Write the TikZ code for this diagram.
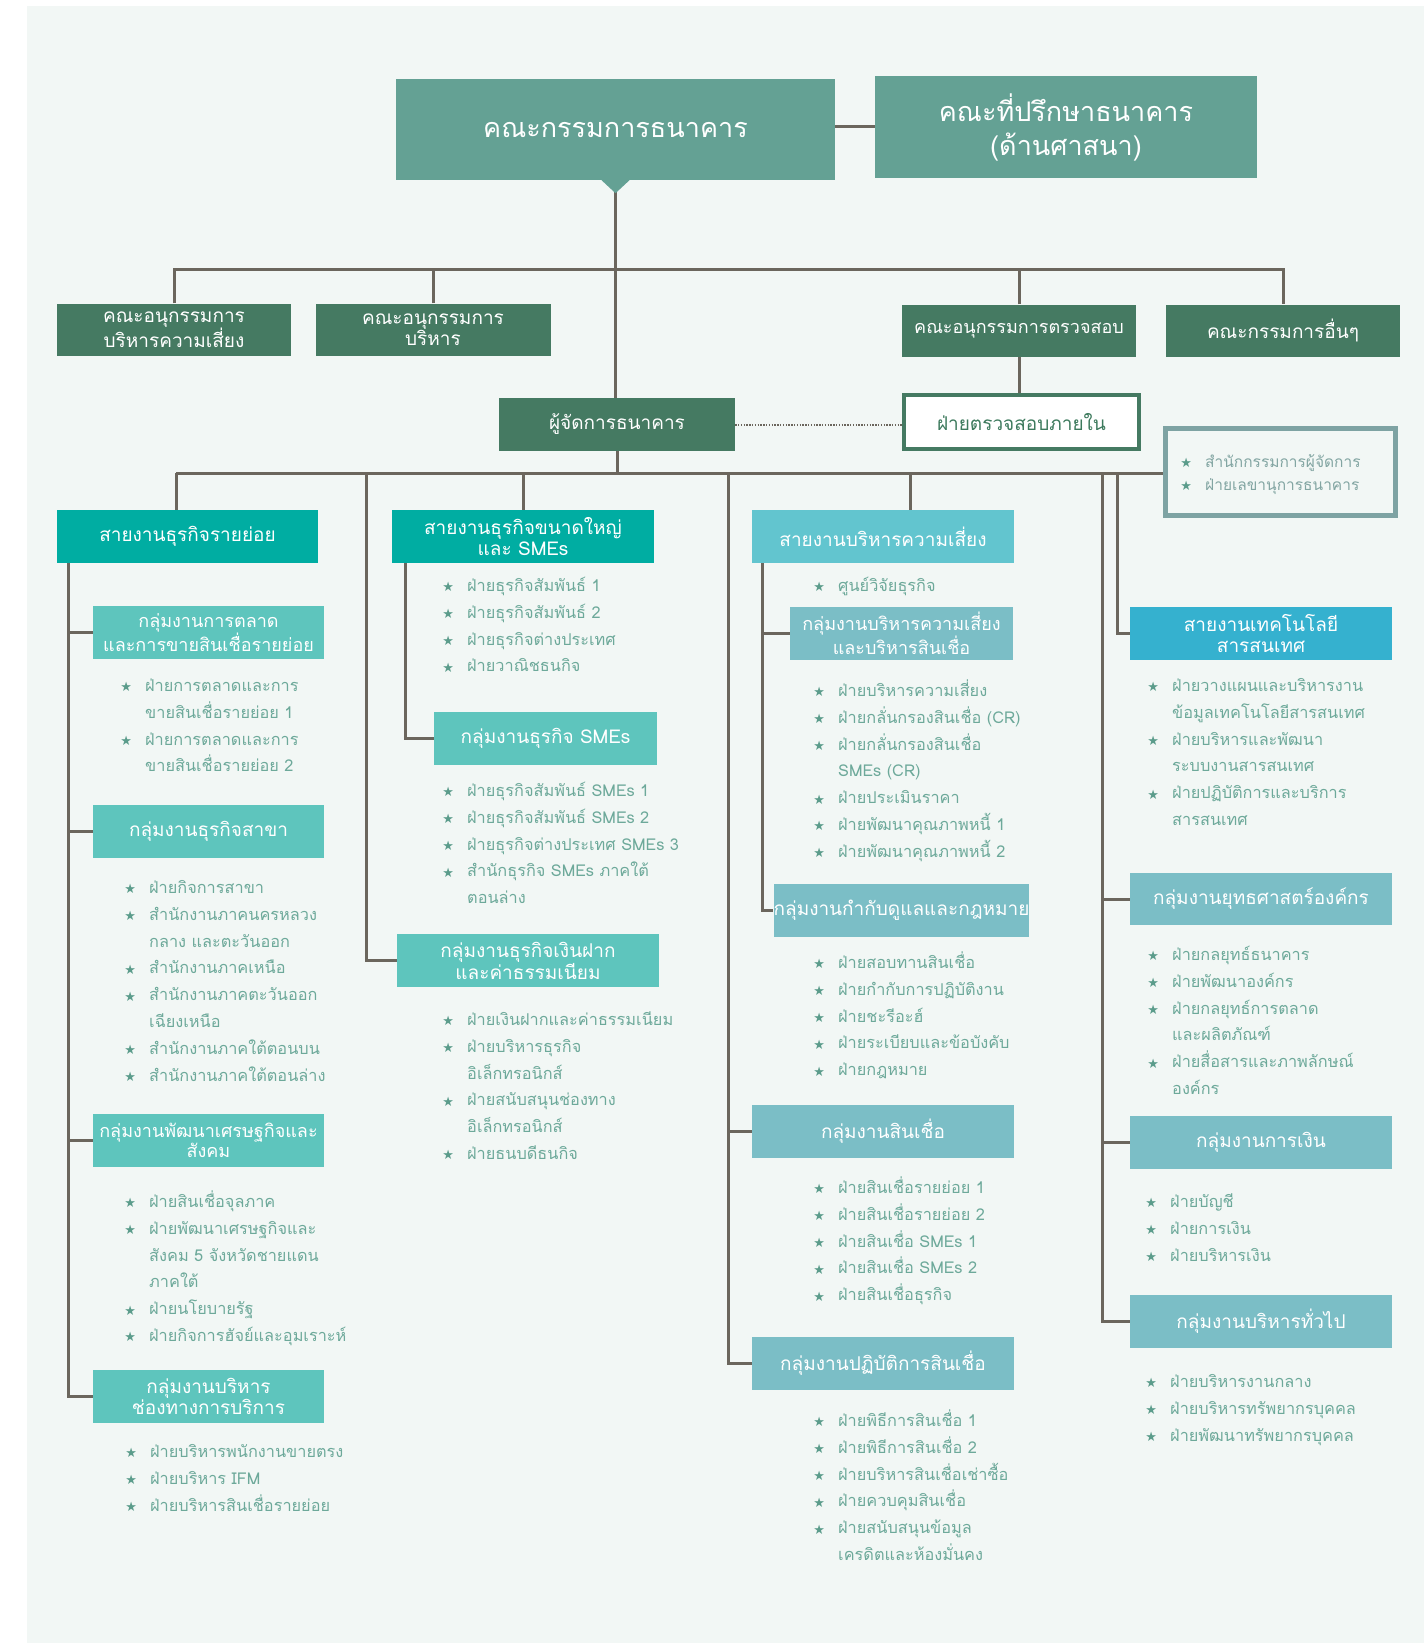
\documentclass[tikz,border=0pt]{standalone}
\usepackage{fontspec}
\setmainfont[Script=Thai]{Loma}
\newfontfamily\symf{DejaVu Sans}
\usetikzlibrary{calc}
\pgfdeclarelayer{bg}
\pgfsetlayers{bg,main}
\definecolor{panel}{HTML}{F2F7F5}
\definecolor{topc}{HTML}{64A194}
\definecolor{dkg}{HTML}{457A62}
\definecolor{tealA}{HTML}{00ADA2}
\definecolor{tealB}{HTML}{5EC5BD}
\definecolor{cyanA}{HTML}{62C5CF}
\definecolor{cyanB}{HTML}{7BBEC6}
\definecolor{blueA}{HTML}{35B1CF}
\definecolor{lnc}{HTML}{6B665D}
\definecolor{itc}{HTML}{6DA99A}
\definecolor{stc}{HTML}{5B9C8B}
\definecolor{secb}{HTML}{7EA3A3}
\definecolor{sect}{HTML}{82A5A2}
\definecolor{audt}{HTML}{3D7A5D}
\newcommand\st{\leavevmode\llap{\makebox[0pt]{\textcolor{stc}{\symf\fontsize{13}{13}\selectfont\raisebox{-0.5pt}{★}}}\hspace{19pt}}}
\tikzset{
  bx/.style n args={3}{fill=#1, minimum width=#2pt, minimum height=#3pt, inner sep=0pt, text=white, align=center, font=\fontsize{19}{20.5}\selectfont},
  tight/.style={font=\fontsize{18}{20.5}\selectfont},
  lst/.style={anchor=north west, inner sep=0pt, align=left, text=itc, font=\fontsize{16.3}{26.8}\selectfont},
  ln/.style={draw=lnc, line width=3pt, line join=miter},
  dotl/.style={draw=lnc, line width=2pt, dash pattern=on 1.4pt off 1.4pt},
}
\begin{document}
\begin{tikzpicture}[x=1pt,y=-1pt]
\useasboundingbox (0,0) rectangle (1424,1643);
% ---- boxes
\node[bx={topc}{439}{101}, font=\fontsize{27}{34}\selectfont] (board) at (615.5,129.5) {คณะกรรมการธนาคาร};
\node[bx={topc}{382}{102}, font=\fontsize{27}{34}\selectfont] (adv) at (1066,127) {คณะที่ปรึกษาธนาคาร\\(ด้านศาสนา)};
\node[bx={dkg}{234}{52}] (c1) at (174,329.5) {คณะอนุกรรมการ\\บริหารความเสี่ยง};
\node[bx={dkg}{235}{52}] (c2) at (433,329.5) {คณะอนุกรรมการ\\บริหาร};
\node[bx={dkg}{234}{52}, tight] (c3) at (1019,330.5) {คณะอนุกรรมการตรวจสอบ};
\node[bx={dkg}{234}{52}] (c4) at (1283,330.5) {คณะกรรมการอื่นๆ};
\node[bx={dkg}{236}{53}] (mgr) at (617,424.5) {ผู้จัดการธนาคาร};
\node[bx={white}{235}{54}, draw=dkg, line width=4pt, text=audt] (audit) at (1021.5,422) {ฝ่ายตรวจสอบภายใน};
\node[draw=secb, line width=5pt, fill=panel, minimum width=230pt, minimum height=87pt, inner sep=0pt] (sec) at (1280.5,472) {};
\node[lst, text=sect, font=\fontsize{15.5}{23}\selectfont] (secl) at (1205,451) {\strut\st สำนักกรรมการผู้จัดการ\\\st ฝ่ายเลขานุการธนาคาร};

\node[bx={tealA}{261}{53}] (r1) at (187.5,536.5) {สายงานธุรกิจรายย่อย};
\node[bx={tealB}{231}{53}, tight] (g11) at (208.5,632.5) {กลุ่มงานการตลาด\\และการขายสินเชื่อรายย่อย};
\node[bx={tealB}{231}{53}] (g12) at (208.5,831.5) {กลุ่มงานธุรกิจสาขา};
\node[bx={tealB}{231}{53}, tight] (g13) at (208.5,1140.5) {กลุ่มงานพัฒนาเศรษฐกิจและ\\สังคม};
\node[bx={tealB}{231}{53}] (g14) at (208.5,1396.5) {กลุ่มงานบริหาร\\ช่องทางการบริการ};

\node[bx={tealA}{262}{53}] (r2) at (523,536.5) {สายงานธุรกิจขนาดใหญ่\\และ SMEs};
\node[bx={tealB}{223}{53}] (g21) at (545.5,738.5) {กลุ่มงานธุรกิจ SMEs};
\node[bx={tealB}{262}{53}] (g22) at (528,960.5) {กลุ่มงานธุรกิจเงินฝาก\\และค่าธรรมเนียม};

\node[bx={cyanA}{262}{53}] (r3) at (883,536.5) {สายงานบริหารความเสี่ยง};
\node[bx={cyanB}{223}{53}, tight] (g31) at (901.5,633.5) {กลุ่มงานบริหารความเสี่ยง\\และบริหารสินเชื่อ};
\node[bx={cyanB}{223}{53}] (g32) at (901.5,910.5) {กลุ่มงานกำกับดูแลและกฎหมาย};
\node[bx={cyanB}{262}{53}] (g33) at (883,1131.5) {กลุ่มงานสินเชื่อ};
\node[bx={cyanB}{262}{53}] (g34) at (883,1363.5) {กลุ่มงานปฏิบัติการสินเชื่อ};

\node[bx={blueA}{262}{53}] (r4) at (1261,633.5) {สายงานเทคโนโลยี\\สารสนเทศ};
\node[bx={cyanB}{262}{52}] (g41) at (1261,899) {กลุ่มงานยุทธศาสตร์องค์กร};
\node[bx={cyanB}{262}{53}] (g42) at (1261,1142.5) {กลุ่มงานการเงิน};
\node[bx={cyanB}{262}{53}] (g43) at (1261,1321.5) {กลุ่มงานบริหารทั่วไป};

% ---- item lists
\node[lst] (l11) at (145,672.5) {\strut\st ฝ่ายการตลาดและการ\\ขายสินเชื่อรายย่อย 1\\\st ฝ่ายการตลาดและการ\\ขายสินเชื่อรายย่อย 2};
\node[lst] (l12) at (149,874.5) {\strut\st ฝ่ายกิจการสาขา\\\st สำนักงานภาคนครหลวง\\กลาง และตะวันออก\\\st สำนักงานภาคเหนือ\\\st สำนักงานภาคตะวันออก\\เฉียงเหนือ\\\st สำนักงานภาคใต้ตอนบน\\\st สำนักงานภาคใต้ตอนล่าง};
\node[lst] (l13) at (149,1188.5) {\strut\st ฝ่ายสินเชื่อจุลภาค\\\st ฝ่ายพัฒนาเศรษฐกิจและ\\สังคม 5 จังหวัดชายแดน\\ภาคใต้\\\st ฝ่ายนโยบายรัฐ\\\st ฝ่ายกิจการฮัจย์และอุมเราะห์};
\node[lst] (l14) at (150,1438.5) {\strut\st ฝ่ายบริหารพนักงานขายตรง\\\st ฝ่ายบริหาร IFM\\\st ฝ่ายบริหารสินเชื่อรายย่อย};

\node[lst] (l21) at (467,572.5) {\strut\st ฝ่ายธุรกิจสัมพันธ์ 1\\\st ฝ่ายธุรกิจสัมพันธ์ 2\\\st ฝ่ายธุรกิจต่างประเทศ\\\st ฝ่ายวาณิชธนกิจ};
\node[lst] (l22) at (467,777.5) {\strut\st ฝ่ายธุรกิจสัมพันธ์ SMEs 1\\\st ฝ่ายธุรกิจสัมพันธ์ SMEs 2\\\st ฝ่ายธุรกิจต่างประเทศ SMEs 3\\\st สำนักธุรกิจ SMEs ภาคใต้\\ตอนล่าง};
\node[lst] (l23) at (467,1006.5) {\strut\st ฝ่ายเงินฝากและค่าธรรมเนียม\\\st ฝ่ายบริหารธุรกิจ\\อิเล็กทรอนิกส์\\\st ฝ่ายสนับสนุนช่องทาง\\อิเล็กทรอนิกส์\\\st ฝ่ายธนบดีธนกิจ};

\node[lst] (l30) at (838,572.5) {\strut\st ศูนย์วิจัยธุรกิจ};
\node[lst] (l31) at (838,677.5) {\strut\st ฝ่ายบริหารความเสี่ยง\\\st ฝ่ายกลั่นกรองสินเชื่อ (CR)\\\st ฝ่ายกลั่นกรองสินเชื่อ\\SMEs (CR)\\\st ฝ่ายประเมินราคา\\\st ฝ่ายพัฒนาคุณภาพหนี้ 1\\\st ฝ่ายพัฒนาคุณภาพหนี้ 2};
\node[lst] (l32) at (838,949.5) {\strut\st ฝ่ายสอบทานสินเชื่อ\\\st ฝ่ายกำกับการปฏิบัติงาน\\\st ฝ่ายชะรีอะฮ์\\\st ฝ่ายระเบียบและข้อบังคับ\\\st ฝ่ายกฎหมาย};
\node[lst] (l33) at (838,1174.5) {\strut\st ฝ่ายสินเชื่อรายย่อย 1\\\st ฝ่ายสินเชื่อรายย่อย 2\\\st ฝ่ายสินเชื่อ SMEs 1\\\st ฝ่ายสินเชื่อ SMEs 2\\\st ฝ่ายสินเชื่อธุรกิจ};
\node[lst] (l34) at (838,1407.5) {\strut\st ฝ่ายพิธีการสินเชื่อ 1\\\st ฝ่ายพิธีการสินเชื่อ 2\\\st ฝ่ายบริหารสินเชื่อเช่าซื้อ\\\st ฝ่ายควบคุมสินเชื่อ\\\st ฝ่ายสนับสนุนข้อมูล\\เครดิตและห้องมั่นคง};

\node[lst] (l41) at (1172,672.5) {\strut\st ฝ่ายวางแผนและบริหารงาน\\ข้อมูลเทคโนโลยีสารสนเทศ\\\st ฝ่ายบริหารและพัฒนา\\ระบบงานสารสนเทศ\\\st ฝ่ายปฏิบัติการและบริการ\\สารสนเทศ};
\node[lst] (l42) at (1172,941.5) {\strut\st ฝ่ายกลยุทธ์ธนาคาร\\\st ฝ่ายพัฒนาองค์กร\\\st ฝ่ายกลยุทธ์การตลาด\\และผลิตภัณฑ์\\\st ฝ่ายสื่อสารและภาพลักษณ์\\องค์กร};
\node[lst] (l43) at (1170,1188.5) {\strut\st ฝ่ายบัญชี\\\st ฝ่ายการเงิน\\\st ฝ่ายบริหารเงิน};
\node[lst] (l44) at (1170,1368.5) {\strut\st ฝ่ายบริหารงานกลาง\\\st ฝ่ายบริหารทรัพยากรบุคคล\\\st ฝ่ายพัฒนาทรัพยากรบุคคล};

% ---- background and connectors
\begin{pgfonlayer}{bg}
\fill[white] (0,0) rectangle (1424,1643);
\fill[panel] (27,6) rectangle (1424,1643);
\coordinate (tb) at (0,269);
\coordinate (mb) at (0,473);
\coordinate (d1) at (176,473);
\coordinate (d2) at (366,473);
\coordinate (d3) at (728,473);
\coordinate (d5) at (910,473);
\coordinate (d6) at (1102,473);
\coordinate (d7) at (1117,473);
\coordinate (t1) at ([xshift=12pt]r1.south west);
\coordinate (t2) at ([xshift=14pt]r2.south west);
\coordinate (t3) at ([xshift=11pt]r3.south west);
\draw[ln] (board.south) -- (board.south |- mgr.north);
\draw[ln] (board.east |- adv.west) -- (adv.west);
\draw[ln] (c1.north) -- (c1.north |- tb) -- (c4.north |- tb) -- (c4.north);
\draw[ln] (c2.north) -- (c2.north |- tb);
\draw[ln] (c3.north) -- (c3.north |- tb);
\draw[ln] (c3.south) -- (c3.south |- audit.north);
\draw[dotl] (mgr.east) -- (mgr.east -| audit.west);
\draw[ln] (mgr.south) -- (mgr.south |- mb);
\draw[ln] (d1) -- (d1 -| sec.west);
\draw[ln] (d1) -- (d1 |- r1.north);
\draw[ln] (d2) |- (g22.west);
\draw[ln] (r2.north |- mb) -- (r2.north);
\draw[ln] (d3) |- (g34.west);
\draw[ln] (d3 |- g33.west) -- (g33.west);
\draw[ln] (d5) -- (d5 |- r3.north);
\draw[ln] (d6) |- (g43.west);
\draw[ln] (d6 |- g41.west) -- (g41.west);
\draw[ln] (d6 |- g42.west) -- (g42.west);
\draw[ln] (d7) |- (r4.west);
\draw[ln] (t1) |- (g14.west);
\draw[ln] (t1 |- g11.west) -- (g11.west);
\draw[ln] (t1 |- g12.west) -- (g12.west);
\draw[ln] (t1 |- g13.west) -- (g13.west);
\draw[ln] (t2) |- (g21.west);
\draw[ln] (t3) |- (g32.west);
\draw[ln] (t3 |- g31.west) -- (g31.west);
\end{pgfonlayer}
\fill[topc] ([xshift=-14pt]board.south) -- ([xshift=14pt]board.south) -- ([yshift=-13pt]board.south) -- cycle;
\end{tikzpicture}
\end{document}
